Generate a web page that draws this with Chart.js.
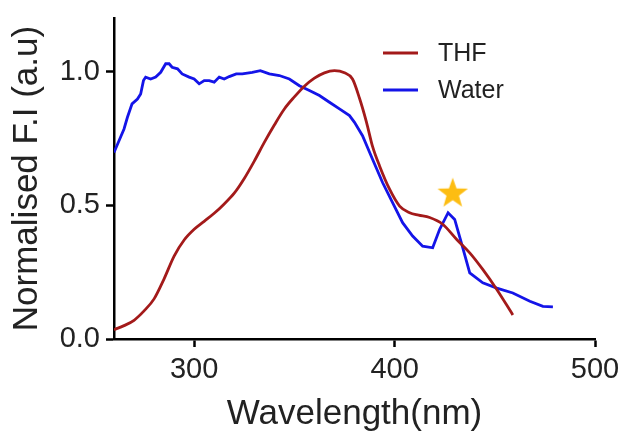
<!DOCTYPE html>
<html>
<head>
<meta charset="utf-8">
<script src="https://cdn.jsdelivr.net/npm/chart.js@4"></script>
<style>
  html, body { margin: 0; padding: 0; background: #fff; }
  #wrap { width: 622px; height: 432px; }
</style>
</head>
<body>
<div id="wrap"><canvas id="myChart" width="622" height="432"></canvas></div>
<script>
// THF emission
var thfX = [260, 265, 270, 275, 280, 285, 290, 295, 300, 305, 310, 315, 320, 325, 330, 335, 340, 345, 350, 355, 360, 365, 370, 375, 379, 382.5, 386, 389, 392.5, 397.5, 402.5, 407.5, 412, 417.5, 424, 431, 437.5, 444, 451, 459];
var thfY = [0.035, 0.05, 0.07, 0.105, 0.15, 0.225, 0.31, 0.37, 0.41, 0.44, 0.47, 0.505, 0.545, 0.6, 0.665, 0.735, 0.8, 0.86, 0.905, 0.945, 0.975, 0.995, 1.003, 0.995, 0.972, 0.90, 0.81, 0.72, 0.647, 0.56, 0.497, 0.472, 0.463, 0.454, 0.429, 0.372, 0.322, 0.26, 0.185, 0.09];

// Water emission
var waterX = [260, 262.5, 265, 266.7, 269, 271.7, 273.3, 274.7, 275.8, 278.3, 280.8, 283.3, 285.8, 287.5, 289, 291.7, 294, 297.5, 300, 302.5, 305, 307.5, 310, 312.5, 315, 317.5, 321, 324, 329, 333, 337.5, 342.5, 347.5, 352.5, 357.5, 362.5, 367.5, 372.5, 377.5, 380, 384, 389, 394, 399, 404, 409, 414, 419, 422.5, 426.7, 430, 433.3, 437.5, 444, 451, 459, 467.5, 474, 479];
var waterY = [0.697, 0.741, 0.785, 0.829, 0.879, 0.897, 0.916, 0.966, 0.979, 0.972, 0.979, 0.997, 1.029, 1.029, 1.016, 1.01, 0.991, 0.979, 0.972, 0.954, 0.966, 0.966, 0.96, 0.979, 0.972, 0.981, 0.991, 0.991, 0.997, 1.003, 0.991, 0.985, 0.972, 0.947, 0.929, 0.91, 0.885, 0.86, 0.835, 0.81, 0.76, 0.672, 0.585, 0.51, 0.435, 0.385, 0.347, 0.341, 0.41, 0.472, 0.447, 0.36, 0.247, 0.21, 0.19, 0.172, 0.141, 0.122, 0.12];

// star marker above the water peak
var starX = [429];
var starY = [0.547];

var xTicks = [300, 400, 500];
var yTicks = [0, 0.5, 1.0];

var seriesLabels = ['THF', 'Water'];
var seriesColors = ['#A31A1A', '#1414E8'];

function pts(xs, ys) {
    return xs.map(function (x, i) { return { x: x, y: ys[i] }; });
}

// filled star image for the point style
var starImg = document.createElement('canvas');
starImg.width = 34; starImg.height = 34;
(function () {
    var c = starImg.getContext('2d');
    c.fillStyle = '#FDBD12';
    c.beginPath();
    for (var i = 0; i < 10; i++) {
        var r = i % 2 === 0 ? 16 : 6.5;
        var a = -Math.PI / 2 + i * Math.PI / 5;
        var px = 17 + r * Math.cos(a), py = 18 + r * Math.sin(a);
        if (i === 0) c.moveTo(px, py); else c.lineTo(px, py);
    }
    c.closePath();
    c.fill();
})();

var legendPlugin = {
    id: 'sideLegend',
    afterDraw: function (chart) {
        var ctx = chart.ctx;
        var area = chart.chartArea;
        ctx.save();
        ctx.font = '25px "Liberation Sans", Arial, sans-serif';
        ctx.textBaseline = 'middle';
        for (var i = 0; i < seriesLabels.length; i++) {
            var y = 53 + i * 37;
            ctx.strokeStyle = seriesColors[i];
            ctx.lineWidth = 2.8;
            ctx.beginPath();
            ctx.moveTo(area.right - 212, y);
            ctx.lineTo(area.right - 177, y);
            ctx.stroke();
            ctx.fillStyle = '#222';
            ctx.fillText(seriesLabels[i], area.right - 157, y + 1);
        }
        ctx.restore();
    }
};

// drop the label overflow padding so the layout padding decides the edges
function noPad(s) {
    s.paddingLeft = 0; s.paddingRight = 0; s.paddingTop = 0; s.paddingBottom = 0;
}

var ctx = document.getElementById('myChart').getContext('2d');
var myChart = new Chart(ctx, {
    type: 'line',
    data: {
        datasets: [{
            label: seriesLabels[0],
            data: pts(thfX, thfY),
            borderColor: seriesColors[0],
            borderWidth: 2.8,
            pointRadius: 0,
            tension: 0.4,
            cubicInterpolationMode: 'monotone'
        }, {
            label: seriesLabels[1],
            data: pts(waterX, waterY),
            borderColor: seriesColors[1],
            borderWidth: 2.8,
            pointRadius: 0,
            tension: 0
        }, {
            label: 'star',
            data: pts(starX, starY),
            showLine: false,
            pointStyle: starImg,
            pointRadius: 17
        }]
    },
    options: {
        responsive: false,
        animation: false,
        layout: { padding: { left: 0, right: 27, top: 18, bottom: 0 } },
        plugins: { legend: { display: false }, tooltip: { enabled: false } },
        scales: {
            x: {
                type: 'linear',
                min: 260,
                max: 500,
                afterBuildTicks: function (s) { s.ticks = xTicks.map(function (v) { return { value: v }; }); },
                afterFit: function (s) { s.height = 93; noPad(s); },
                grid: { display: true, drawOnChartArea: false, tickLength: 8, tickColor: '#000', tickWidth: 2.5 },
                border: { color: '#000', width: 2.5 },
                ticks: { color: '#222', padding: 6, font: { family: '"Liberation Sans", Arial', size: 29 } },
                title: { display: true, text: 'Wavelength(nm)', color: '#222', padding: { top: 0, bottom: 0 },
                    font: { family: '"Liberation Sans", Arial', size: 35, lineHeight: 1 } }
            },
            y: {
                min: 0,
                max: 1.2,
                afterBuildTicks: function (s) { s.ticks = yTicks.map(function (v) { return { value: v }; }); },
                afterFit: function (s) { s.width = 114; noPad(s); },
                grid: { display: true, drawOnChartArea: false, tickLength: 8, tickColor: '#000', tickWidth: 2.5 },
                border: { color: '#000', width: 2.5 },
                ticks: { color: '#222', padding: 6, font: { family: '"Liberation Sans", Arial', size: 29 },
                    callback: function (v) { return v.toFixed(1); } },
                title: { display: true, text: 'Normalised F.I (a.u)', color: '#222', padding: { top: 10, bottom: 0 },
                    font: { family: '"Liberation Sans", Arial', size: 35, lineHeight: 1 } }
            }
        }
    },
    plugins: [legendPlugin]
});
</script>
</body>
</html>
